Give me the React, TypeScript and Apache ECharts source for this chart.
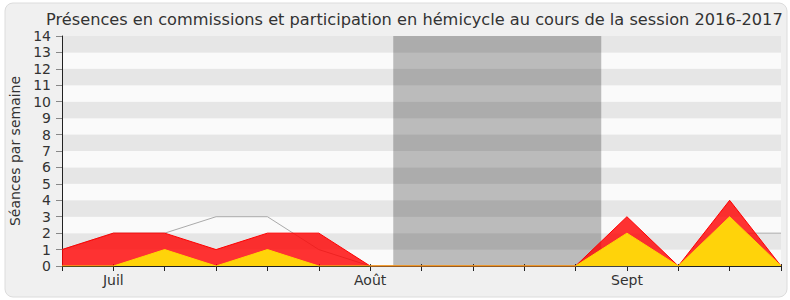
import React, { useEffect, useRef } from "react";
import * as echarts from "echarts";

const weeks = [0, 1, 2, 3, 4, 5, 6, 7, 8, 9, 10, 11, 12, 13, 14];
const monthLabels: Record<number, string> = { 1: "Juil", 6: "Août", 11: "Sept" };
const presences = [1, 2, 2, 1, 2, 2, 0, 0, 0, 0, 0, 3, 0, 4, 0];
const hemicycle = [0, 0, 1, 0, 1, 0, 0, 0, 0, 0, 0, 2, 0, 3, 0];
const mediane = [1, 2, 2, 3, 3, 1, 0, 0, 0, 0, 0, 0, 0, 2, 2];
const vacances: [number, number] = [6.45, 10.5];
const yTicks = [0, 14];

const FONT = "DejaVu Sans";

export default function App() {
  const ref = useRef<HTMLDivElement>(null);
  useEffect(() => {
    if (!ref.current) return;
    const chart = echarts.init(ref.current, undefined, { renderer: "svg" });
    const toPts = (arr: number[]) => weeks.map((w, i) => [w, arr[i]]);
    chart.setOption({
      animation: false,
      backgroundColor: "#ffffff",
      graphic: [
        {
          type: "rect",
          z: -10,
          silent: true,
          shape: { x: 5, y: 3, width: 782, height: 294, r: 8 },
          style: { fill: "#f0f0f0", stroke: "#dcdcdc", lineWidth: 1 },
        },
      ],
      title: {
        text: "Présences en commissions et participation en hémicycle au cours de la session 2016-2017",
        left: 41,
        top: 6,
        textStyle: { fontFamily: FONT, fontSize: 16.2, fontWeight: "normal", color: "#333" },
      },
      grid: { left: 62, right: 9, top: 36, bottom: 34 },
      xAxis: [
        {
          type: "value",
          min: 0,
          max: 14,
          interval: 1,
          axisLine: { show: true, onZero: false, lineStyle: { color: "#222", width: 1 } },
          axisTick: { show: true, length: 5, lineStyle: { color: "#222" } },
          axisLabel: {
            fontFamily: FONT,
            fontSize: 14,
            color: "#333",
            margin: 7,
            formatter: (v: number) => monthLabels[v] || "",
          },
          splitLine: { show: false },
        },
        {
          type: "value",
          position: "top",
          min: 0,
          max: 14,
          interval: 1,
          axisLine: { show: false },
          axisTick: { show: true, length: 2, lineStyle: { color: "#333" } },
          axisLabel: { show: false },
          splitLine: { show: false },
        },
      ],
      yAxis: {
        type: "value",
        min: yTicks[0],
        max: yTicks[1],
        interval: 1,
        name: "Séances par semaine",
        nameLocation: "middle",
        nameGap: 40,
        nameTextStyle: { fontFamily: FONT, fontSize: 14, color: "#333" },
        axisLine: { show: true, lineStyle: { color: "#222", width: 1 } },
        axisTick: { show: true, length: 6, lineStyle: { color: "#888" } },
        axisLabel: { fontFamily: FONT, fontSize: 14, color: "#333", margin: 11 },
        splitLine: { show: false },
        splitArea: { show: true, areaStyle: { color: ["#fafafa", "#e6e6e6"] } },
      },
      series: [
        {
          type: "line",
          data: toPts(mediane),
          symbol: "none",
          lineStyle: { color: "#aaaaaa", width: 1 },
          z: 2,
          markArea: {
            silent: true,
            itemStyle: { color: "rgba(0,0,0,0.25)" },
            data: [[{ xAxis: vacances[0] }, { xAxis: vacances[1] }]],
          },
        },
        {
          type: "line",
          data: toPts(presences),
          symbol: "none",
          lineStyle: { color: "#ff0000", width: 1 },
          areaStyle: { color: "#ff0000", opacity: 0.8, origin: 0 },
          z: 3,
        },
        {
          type: "line",
          data: toPts(hemicycle),
          symbol: "none",
          lineStyle: { color: "#ffd700", width: 1 },
          areaStyle: { color: "#ffd30a", opacity: 1, origin: 0 },
          z: 4,
        },
      ],
    });
    return () => chart.dispose();
  }, []);
  return (
    <div
      ref={ref}
      style={{ position: "fixed", left: 0, top: 0, width: 790, height: 300 }}
    />
  );
}
